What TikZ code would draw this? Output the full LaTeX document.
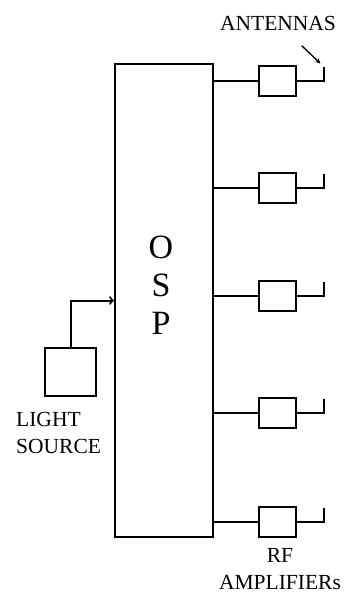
\documentclass[tikz,border=0pt]{standalone}
\usepackage{fontspec}
\setmainfont{Liberation Serif}
\usetikzlibrary{positioning}

\tikzset{
  blk/.style={draw=black, line width=2pt, inner sep=0pt},
  ampbox/.style={blk, minimum width=37pt, minimum height=30pt},
  wire/.style={black, line width=2pt},
  lbl/.style={font=\fontsize{21.5}{27}\selectfont, inner sep=0pt}
}

\begin{document}
\begin{tikzpicture}[x=1pt, y=-1pt]
\useasboundingbox (0,0) rectangle (348,593);

% main block
\node[blk, minimum width=98pt, minimum height=473pt] (osp) at (164,300.5) {};
\node[font=\fontsize{34}{38}\selectfont, align=center] (osplbl) at (161,285) {O\\S\\P};

% light source
\node[blk, minimum width=51pt, minimum height=48pt] (light) at (70.5,372) {};
\node[lbl, anchor=west, align=left] (lightlbl) at (16,433) {LIGHT\\SOURCE};
\draw[wire, ->] (light.north) |- (osp.west);

% channels: amplifier + antenna
\foreach \i/\y in {1/81, 2/188, 3/296, 4/413, 5/522} {
  \coordinate (c\i) at (213,\y);
  \node[ampbox] (amp\i) at (277.5,\y) {};
  \coordinate (ant\i) at (324,\y-14);
  \draw[wire] (c\i) -- (amp\i.west);
  \draw[wire] (amp\i.east) -| (ant\i);
}

\node[lbl] (antlbl) at (278,23) {ANTENNAS};
\draw[black, line width=1.3pt, -stealth, shorten <=22pt, shorten >=5pt] (antlbl) -- (ant1);

\node[lbl, align=center] (rflbl) at (280,569) {RF\\AMPLIFIERs};

\end{tikzpicture}
\end{document}
